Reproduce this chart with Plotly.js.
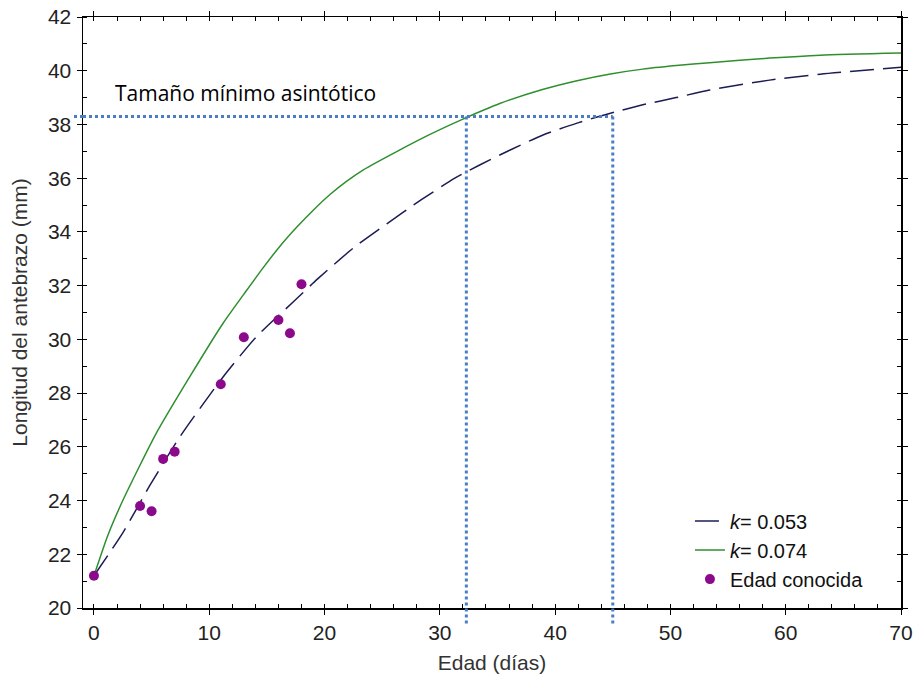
<!DOCTYPE html>
<html>
<head>
<meta charset="utf-8">
<script src="https://cdn.plot.ly/plotly-3.0.1.min.js"></script>
<style>
  html, body { margin: 0; padding: 0; background: #ffffff; }
  #chart { width: 916px; height: 685px; }
</style>
</head>
<body>
<div id="chart"></div>
<script>
// Growth curve with k = 0.053 (dashed)
const ageSlow = [0, 2.5, 4.9, 7.5, 11.2, 14.1, 17.3, 19.4, 22.5, 25.4, 28.4, 31.3, 33.5, 36.1, 38.9, 41.9, 44.8, 47.6, 50.5, 53.4, 58.6, 63.0, 70];
const lenSlow = [21.2, 22.8, 24.6, 26.4, 28.6, 30.1, 31.4, 32.25, 33.4, 34.3, 35.2, 36.0, 36.5, 37.05, 37.6, 38.05, 38.42, 38.73, 39.0, 39.28, 39.65, 39.87, 40.13];

// Growth curve with k = 0.074 (solid green)
const ageFast = [0, 1.2, 2.5, 5.4, 8.3, 11.2, 13.2, 14.7, 16.1, 17.6, 19.0, 20.5, 21.9, 23.4, 26.3, 29.1, 32.0, 35.2, 38.9, 41.9, 44.8, 47.6, 50.5, 53.4, 58.6, 63.0, 70];
const lenFast = [21.2, 22.7, 24.0, 26.5, 28.6, 30.6, 31.8, 32.68, 33.45, 34.18, 34.8, 35.4, 35.88, 36.32, 37.0, 37.62, 38.2, 38.78, 39.3, 39.63, 39.88, 40.06, 40.19, 40.3, 40.47, 40.58, 40.66];

// Individuals of known age
const knownAge = [0, 4, 5, 6, 7, 11, 13, 16, 17, 18];
const knownLen = [21.2, 23.8, 23.6, 25.55, 25.82, 28.33, 30.08, 30.72, 30.23, 32.05];

// Minimum asymptotic size and the ages at which each curve reaches it
const minAsymptotic = 38.3;
const reachAges = [32.3, 45.0];

const arial = "'Liberation Sans', Arial, sans-serif";
const dotBlue = '#4a7ec4';

const traces = [
  {
    x: ageSlow, y: lenSlow, type: 'scatter', mode: 'lines',
    name: '<i>k</i>= 0.053',
    line: { color: '#1c1c55', width: 1.5, dash: '24px,9px', shape: 'spline', smoothing: 0.6 }
  },
  {
    x: ageFast, y: lenFast, type: 'scatter', mode: 'lines',
    name: '<i>k</i>= 0.074',
    line: { color: '#2f8f2f', width: 1.5, shape: 'spline', smoothing: 0.6 }
  },
  {
    x: knownAge, y: knownLen, type: 'scatter', mode: 'markers',
    name: 'Edad conocida',
    marker: { color: '#8b0a8b', size: 10, symbol: 'circle' }
  }
];

const shapes = [
  // horizontal reference at the asymptotic size, starting just left of the frame
  {
    type: 'line', xref: 'paper', yref: 'y',
    x0: -0.011, x1: 0, y0: minAsymptotic, y1: minAsymptotic,
    line: { color: dotBlue, width: 3, dash: 'dot' }
  },
  {
    type: 'line', xref: 'x', yref: 'y',
    x0: -0.95, x1: reachAges[1], y0: minAsymptotic, y1: minAsymptotic,
    line: { color: dotBlue, width: 3, dash: 'dot' }
  }
];
reachAges.forEach(function (a) {
  shapes.push({
    type: 'line', xref: 'x', yref: 'paper',
    x0: a, x1: a, y0: (minAsymptotic - 20) / 22, y1: -0.03,
    line: { color: dotBlue, width: 3, dash: 'dot' }
  });
});

const layout = {
  width: 916, height: 685,
  margin: { l: 83, r: 15, t: 17, b: 77 },
  paper_bgcolor: '#ffffff',
  plot_bgcolor: '#ffffff',
  showlegend: true,
  legend: {
    x: 0.742, y: 0.18, xanchor: 'left', yanchor: 'top',
    bgcolor: 'rgba(255,255,255,0)',
    font: { family: arial, size: 20, color: '#111111' },
    tracegroupgap: 0, itemwidth: 30
  },
  xaxis: {
    range: [-0.95, 70], tickvals: [0, 10, 20, 30, 40, 50, 60, 70],
    ticks: 'outside', ticklen: 5, tickcolor: '#000000', tickwidth: 1,
    minor: { dtick: 2, ticks: 'inside', ticklen: 4, tickcolor: '#000000', tickwidth: 1, showgrid: false },
    showgrid: false, zeroline: false,
    showline: true, linecolor: '#000000', linewidth: 1.5, mirror: 'allticks',
    tickfont: { family: arial, size: 21, color: '#222222' },
    title: { text: 'Edad (días)', font: { family: arial, size: 21, color: '#333333' }, standoff: 12 }
  },
  yaxis: {
    range: [20, 42], tickvals: [20, 22, 24, 26, 28, 30, 32, 34, 36, 38, 40, 42],
    ticks: 'outside', ticklen: 5, tickcolor: '#000000', tickwidth: 1,
    minor: { dtick: 1, ticks: 'inside', ticklen: 4, tickcolor: '#000000', tickwidth: 1, showgrid: false },
    showgrid: false, zeroline: false,
    showline: true, linecolor: '#000000', linewidth: 1.5, mirror: 'allticks',
    tickfont: { family: arial, size: 21, color: '#222222' },
    ticklabelstandoff: 1,
    title: { text: 'Longitud del antebrazo (mm)', font: { family: arial, size: 21, color: '#333333' }, standoff: 14 }
  },
  shapes: shapes,
  annotations: [
    {
      xref: 'x', yref: 'y', x: 1.65, y: 39.17,
      xanchor: 'left', yanchor: 'middle', showarrow: false,
      text: 'Tamaño mínimo asintótico',
      font: { family: "'Open Sans', Lato, sans-serif", size: 21, color: '#000000' }
    }
  ]
};

Plotly.newPlot('chart', traces, layout, { displayModeBar: false, staticPlot: true });
</script>
</body>
</html>
